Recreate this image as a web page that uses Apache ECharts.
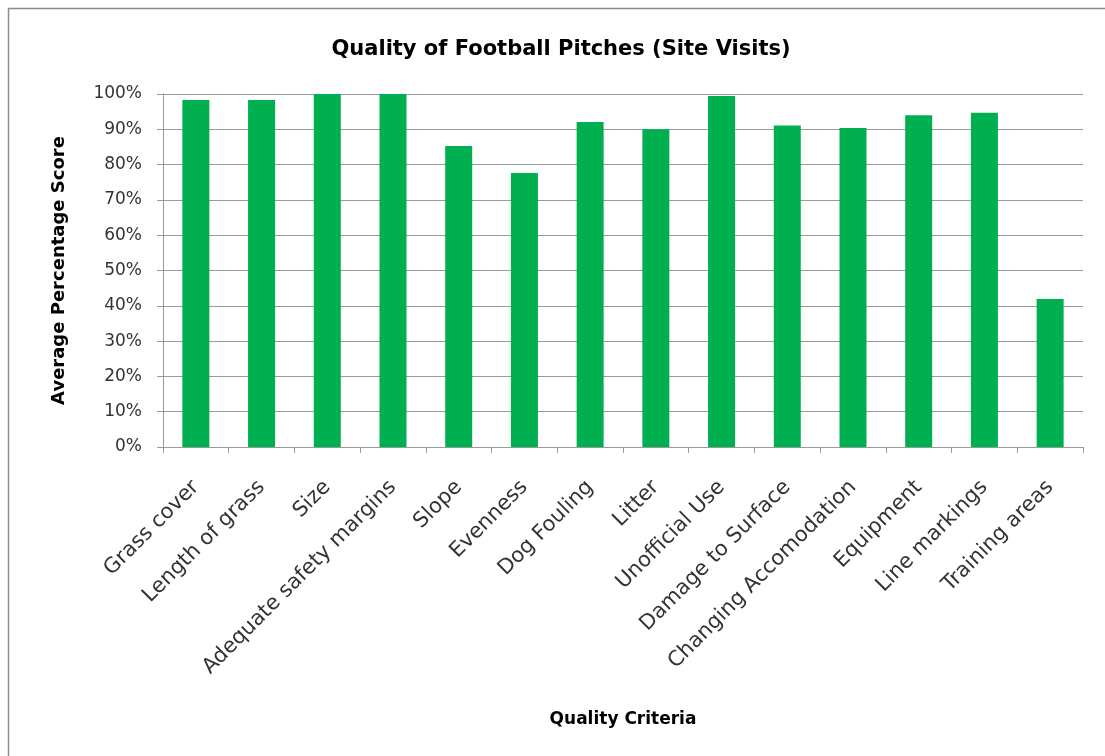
<!DOCTYPE html>
<html>
<head>
<meta charset="utf-8">
<script src="https://cdn.jsdelivr.net/npm/echarts@6/dist/echarts.min.js"></script>
<style>
html,body{margin:0;padding:0;background:#fff;}
#chart{width:1105px;height:756px;}
</style>
</head>
<body>
<div id="chart"></div>
<script>
const categories = ["Grass cover","Length of grass","Size","Adequate safety margins","Slope","Evenness","Dog Fouling","Litter","Unofficial Use","Damage to Surface","Changing Accomodation","Equipment","Line markings","Training areas"];
const scores = [98.3, 98.3, 100, 100, 85.3, 77.6, 92.1, 90.0, 99.4, 91.1, 90.4, 94.0, 94.7, 41.9];
const yTicks = [0,10,20,30,40,50,60,70,80,90,100];

const FONT = "'DejaVu Sans', sans-serif";
const chart = echarts.init(document.getElementById('chart'));
chart.setOption({
  animation: false,
  backgroundColor: '#fff',
  graphic: [{
    type: 'rect',
    shape: {x: 8.5, y: 8.5, width: 1200, height: 900},
    style: {fill: 'none', stroke: '#8c8c8c', lineWidth: 1.5},
    silent: true
  }],
  title: {
    text: 'Quality of Football Pitches (Site Visits)',
    left: 556, top: 34, textAlign: 'center',
    textStyle: {fontFamily: FONT, fontSize: 21, fontWeight: 'bold', color: '#000'}
  },
  grid: {left: 163, top: 94, right: 22, bottom: 309, containLabel: false},
  xAxis: {
    type: 'category',
    data: categories,
    name: 'Quality Criteria',
    nameLocation: 'middle',
    nameGap: 264,
    nameTextStyle: {fontFamily: FONT, fontSize: 17, fontWeight: 'bold', color: '#000'},
    axisLine: {lineStyle: {color: '#9a9a9a', width: 1}},
    axisTick: {show: true, length: 6, lineStyle: {color: '#9a9a9a'}},
    axisLabel: {rotate: 45, interval: 0, margin: 37, fontFamily: FONT, fontSize: 21, color: '#333'}
  },
  yAxis: {
    type: 'value',
    min: 0, max: 100, interval: 10,
    name: 'Average Percentage Score',
    nameLocation: 'middle',
    nameGap: 95,
    nameTextStyle: {fontFamily: FONT, fontSize: 18, fontWeight: 'bold', color: '#000'},
    axisLine: {show: true, lineStyle: {color: '#9a9a9a', width: 1}},
    axisTick: {show: true, length: 6, lineStyle: {color: '#9a9a9a'}},
    splitLine: {lineStyle: {color: '#9a9a9a', width: 1}},
    axisLabel: {margin: 21, fontFamily: FONT, fontSize: 17, color: '#333',
      formatter: v => yTicks.includes(v) ? v + '%' : ''}
  },
  series: [{
    type: 'bar',
    data: scores,
    barWidth: 27,
    itemStyle: {color: '#00b050'}
  }]
});
</script>
</body>
</html>
